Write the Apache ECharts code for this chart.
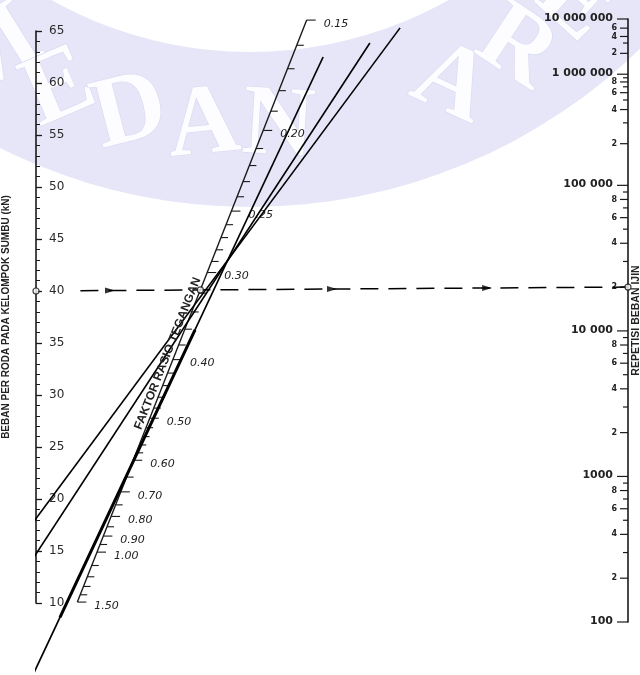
<!DOCTYPE html>
<html><head><meta charset="utf-8">
<script src="https://cdn.jsdelivr.net/npm/echarts@6/dist/echarts.min.js"></script>
<style>html,body{margin:0;padding:0;background:#fff}#c{width:640px;height:675px}</style>
</head><body><div id="c"></div>
<script>
// ---------------- data ----------------
const loadMin = 10, loadMax = 65, loadStep = 5;                 // left scale, kN
const loadTitle = 'BEBAN PER RODA PADA KELOMPOK SUMBU (kN)';
const repTitle = 'REPETISI BEBAN IJIN';
const factorTitle = 'FAKTOR RASIO TEGANGAN';
const repMajor = [1e7, 1e6, 1e5, 1e4, 1e3, 1e2];
const repMajorLabels = ['10 000 000', '1 000 000', '100 000', '10 000', '1000', '100'];
const repMid = [6e6, 4e6, 2e6, 8e5, 6e5, 4e5, 2e5, 8e4, 6e4, 4e4, 2e4, 8e3, 6e3, 4e3, 2e3, 800, 600, 400, 200];
const repMidLabels = ['6','4','2','8','6','4','2','8','6','4','2','8','6','4','2','8','6','4','2'];
const repMinor = [3e6, 9e5, 7e5, 5e5, 3e5, 9e4, 7e4, 5e4, 3e4, 9e3, 7e3, 5e3, 3e3, 900, 700, 500, 300];
const factorLabeled = [0.15, 0.20, 0.25, 0.30, 0.40, 0.50, 0.60, 0.70, 0.80, 0.90, 1.00, 1.50];
const factorMinor = [0.16, 0.17, 0.18, 0.19, 0.21, 0.22, 0.23, 0.24, 0.26, 0.27, 0.28, 0.29,
  0.32, 0.34, 0.36, 0.38, 0.42, 0.44, 0.46, 0.48, 0.52, 0.54, 0.56, 0.58,
  0.65, 0.75, 0.85, 0.95, 1.10, 1.20, 1.30, 1.40];
// drawn lines: [position across chart (0 = load scale, 1 = repetition scale), load-scale value]
const lineA = [[-0.012, 17.2], [0.615, 65.3]];
const lineB = [[-0.010, 13.85], [0.564, 63.85]];
const lineC = [[-0.005, 3.1], [0.485, 62.5]];
const lineCHeavyRange = [0.0405, 0.2686];
const exampleLoad = 40, exampleReps = 2e4, exampleStart = 0.075;
const arrowAt = [0.125, 0.5, 0.762];
// background watermark (decoration)
const wmText = 'MEDAN AREA';

// scale relations of the nomogram
function stressRatio(N) {            // repetition scale is linear in stress ratio (fatigue relation)
  const lg = Math.log10(N);
  if (N > 1e5) return 0.4325 + 4.2577 / Math.pow(10, lg / 3.268);
  return (11.737 - lg) / 12.077;
}
const FACT_R = 8.7, FACT_P = 1.05;  // stress-ratio-factor scale position along the diagonal
const factorFrac = f => 1 / (1 + FACT_R * Math.pow(f, FACT_P));

const INK = '#1a1a1a';
const NARROW = '"Liberation Sans Narrow", "Liberation Sans", sans-serif';
const LAV = '#e6e6f8';

const chart = echarts.init(document.getElementById('c'), null, {renderer: 'canvas'});
const base = {
  animation: false,
  backgroundColor: '#ffffff',
  grid: [
    {left: 36, right: 12, top: 31, bottom: 72, outerBoundsMode: 'none', containLabel: false},
    {left: 36, right: 12, top: 19, bottom: 53, outerBoundsMode: 'none', containLabel: false}
  ],
  xAxis: [
    {gridIndex: 0, type: 'value', min: 0, max: 1, show: false},
    {gridIndex: 1, type: 'value', min: 0, max: 1, show: false}
  ],
  yAxis: [
    {gridIndex: 0, type: 'value', min: loadMin, max: loadMax, interval: loadStep, position: 'left',
     axisLine: {show: true, onZero: false, lineStyle: {color: INK, width: 1.6}},
     axisTick: {show: true, inside: true, length: 6, lineStyle: {color: INK, width: 1.3}},
     minorTick: {show: true, splitNumber: 5, length: 4, lineStyle: {color: INK, width: 1}},
     axisLabel: {inside: true, margin: 13, color: '#2a2a2a', fontSize: 12, fontFamily: '"DejaVu Sans"'},
     splitLine: {show: false}, minorSplitLine: {show: false},
     name: loadTitle, nameLocation: 'middle', nameGap: 25, nameRotate: 90,
     nameTextStyle: {color: '#222', fontSize: 10, fontWeight: 'bold', fontFamily: NARROW}},
    {gridIndex: 1, type: 'value', min: stressRatio(1e7), max: stressRatio(100), inverse: true, position: 'right',
     axisLine: {show: true, onZero: false, lineStyle: {color: INK, width: 1.6}},
     axisTick: {show: false}, axisLabel: {show: false}, splitLine: {show: false},
     name: repTitle, nameLocation: 'middle', nameGap: 3, nameRotate: 90,
     nameTextStyle: {color: '#222', fontSize: 10.5, fontWeight: 'bold', fontFamily: NARROW}}
  ],
  series: []
};
chart.setOption(base);

// map repetition-scale values into the load grid through the two axes
const eqLoad = sr => chart.convertFromPixel({gridIndex: 0}, chart.convertToPixel({gridIndex: 1}, [1, sr]))[1];
const Pz = eqLoad(0);
const factorPoint = f => { const x = factorFrac(f); return [x, Pz * x]; };

const repEnd = eqLoad(stressRatio(exampleReps));
const dashY = x => exampleLoad + (repEnd - exampleLoad) * x;
const pivotX = exampleLoad / (Pz - repEnd + exampleLoad);
const interpC = x => lineC[0][1] + (lineC[1][1] - lineC[0][1]) * (x - lineC[0][0]) / (lineC[1][0] - lineC[0][0]);

const factorRows = factorLabeled.map(f => ({f, lab: true})).concat(factorMinor.map(f => ({f, lab: false})));
const repRows = repMajor.map((n, i) => ({n, kind: 0, text: repMajorLabels[i]}))
  .concat(repMid.map((n, i) => ({n, kind: 1, text: repMidLabels[i]})))
  .concat(repMinor.map(n => ({n, kind: 2, text: ''})));

const lineStyle = w => ({color: '#000', width: w});
chart.setOption({
  series: [
    // diagonal factor scale
    {type: 'line', xAxisIndex: 0, yAxisIndex: 0, clip: false, silent: true, symbol: 'none',
     data: [factorPoint(0.15), factorPoint(1.5)], lineStyle: {color: INK, width: 1.4}, z: 2},
    {type: 'custom', xAxisIndex: 0, yAxisIndex: 0, clip: false, silent: true, z: 2,
     data: factorRows.map(r => factorPoint(r.f)),
     renderItem(params, api) {
       const r = factorRows[params.dataIndex];
       const p = api.coord([api.value(0), api.value(1)]);
       const len = r.lab ? 9 : 7;
       const ch = [{type: 'line', shape: {x1: p[0], y1: p[1], x2: p[0] + len, y2: p[1]},
                    style: {stroke: INK, lineWidth: 1.1}}];
       if (r.lab) ch.push({type: 'text', x: p[0] + 17, y: p[1] + 4,
         style: {text: r.f.toFixed(2), fill: '#222', font: 'italic 11px "DejaVu Sans"',
                 align: 'left', verticalAlign: 'middle'}});
       return {type: 'group', children: ch};
     }},
    // repetition scale ticks
    {type: 'custom', xAxisIndex: 1, yAxisIndex: 1, clip: false, silent: true, z: 2,
     data: repRows.map(r => [1, stressRatio(r.n)]),
     renderItem(params, api) {
       const r = repRows[params.dataIndex];
       const p = api.coord([api.value(0), api.value(1)]);
       const len = r.kind === 0 ? 11 : (r.kind === 1 ? 8 : 5);
       const ch = [{type: 'line', shape: {x1: p[0] - len, y1: p[1], x2: p[0], y2: p[1]},
                    style: {stroke: INK, lineWidth: 1.2}}];
       if (r.text) ch.push({type: 'text', x: p[0] - len - (r.kind === 0 ? 4 : 3), y: p[1] + (r.kind === 0 ? -1 : 0),
         style: {text: r.text, fill: '#222',
                 font: (r.kind === 0 ? 'bold 11px' : 'bold 8px') + ' "DejaVu Sans"',
                 align: 'right', verticalAlign: 'middle'}});
       return {type: 'group', children: ch};
     }},
    // example (dashed) reading line
    {type: 'line', xAxisIndex: 0, yAxisIndex: 0, clip: false, silent: true, symbol: 'none', z: 3,
     data: [[exampleStart, dashY(exampleStart)], [1, repEnd]],
     lineStyle: {color: '#000', width: 1.5, type: [18, 10]}},
    {type: 'scatter', xAxisIndex: 0, yAxisIndex: 0, clip: false, silent: true, z: 4,
     symbol: 'triangle', symbolSize: [6, 10], symbolRotate: -90,
     itemStyle: {color: '#000'}, data: arrowAt.map(x => [x, dashY(x)])},
    // drawn lines
    {type: 'line', xAxisIndex: 0, yAxisIndex: 0, clip: false, silent: true, symbol: 'none', z: 5,
     data: lineA, lineStyle: lineStyle(1.6)},
    {type: 'line', xAxisIndex: 0, yAxisIndex: 0, clip: false, silent: true, symbol: 'none', z: 5,
     data: lineB, lineStyle: lineStyle(1.6)},
    {type: 'line', xAxisIndex: 0, yAxisIndex: 0, clip: false, silent: true, symbol: 'none', z: 5,
     data: lineC, lineStyle: lineStyle(1.7)},
    {type: 'line', xAxisIndex: 0, yAxisIndex: 0, clip: false, silent: true, symbol: 'none', z: 5,
     data: lineCHeavyRange.map(x => [x, interpC(x)]), lineStyle: lineStyle(3)},
    // reading points
    {type: 'scatter', xAxisIndex: 0, yAxisIndex: 0, clip: false, silent: true, z: 6,
     symbol: 'circle', symbolSize: 6,
     itemStyle: {color: '#fff', borderColor: '#111', borderWidth: 1.2},
     data: [[0, exampleLoad], [pivotX, dashY(pivotX)], [1, repEnd]]}
  ]
});

// title along the diagonal factor scale
const pTop = chart.convertToPixel({gridIndex: 0}, factorPoint(0.15));
const pBot = chart.convertToPixel({gridIndex: 0}, factorPoint(1.5));
const ang = Math.atan2(pBot[1] - pTop[1], pTop[0] - pBot[0]);
const tp = chart.convertToPixel({gridIndex: 0}, factorPoint(0.395));

// faint watermark band with letters along an arc (behind everything)
const W = {cx: 250, cy: -353, r0: 405, r: 560, rm: 482, step: 0.155, start: -0.561, gap: 0.06};
const wm = [{type: 'ring', z: -100, silent: true, shape: {cx: W.cx, cy: W.cy, r: W.r, r0: W.r0}, style: {fill: LAV}}];
for (let i = 0; i < wmText.length; i++) {
  if (wmText[i] === ' ') continue;
  const t = W.start + i * W.step + (i > 5 ? W.gap : 0);
  wm.push({type: 'text', z: -99, silent: true, rotation: -t,
    x: W.cx + W.rm * Math.sin(t), y: W.cy + W.rm * Math.cos(t),
    style: {text: wmText[i], fill: '#fdfdff', stroke: '#d8d8f2', lineWidth: 1.2,
            font: 'bold 100px "Liberation Serif"', align: 'center', verticalAlign: 'middle'}});
}
chart.setOption({
  graphic: wm.concat([{type: 'text', x: tp[0] - 7 * Math.sin(ang), y: tp[1] - 7 * Math.cos(ang), rotation: ang, z: 10, silent: true,
    style: {text: factorTitle, fill: '#222', font: 'bold 12px ' + NARROW, align: 'center', verticalAlign: 'middle'}}])
});
</script></body></html>
